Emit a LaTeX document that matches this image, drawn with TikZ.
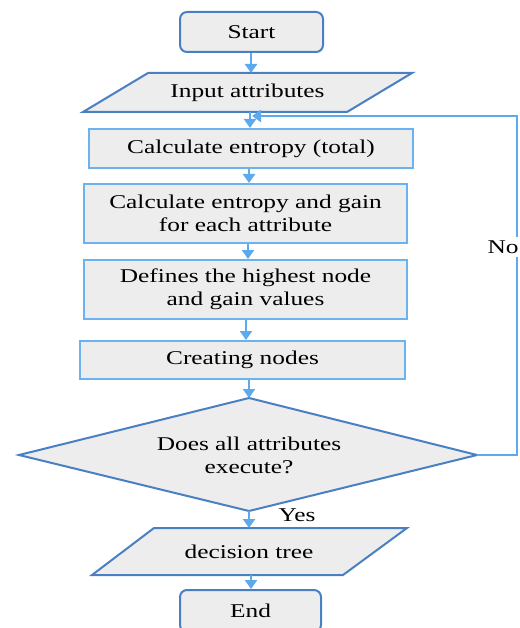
\documentclass[tikz,border=0pt]{standalone}
\usepackage{fontspec}
\setmainfont{Liberation Serif}[FakeStretch=1.3]
\usetikzlibrary{arrows.meta}
\definecolor{boxfill}{HTML}{EDEDED}
\definecolor{darkedge}{HTML}{4A80C2}
\definecolor{lightedge}{HTML}{6AB2F0}
\definecolor{arrowblue}{HTML}{5CA9EE}
\tikzset{
  base/.style={fill=boxfill, line width=2pt, inner sep=0pt, align=center,
    font=\fontsize{19.5}{23}\selectfont},
  term/.style={base, draw=darkedge, rounded corners=7pt},
  proc/.style={base, draw=lightedge},
  shapeline/.style={fill=boxfill, draw=darkedge, line width=2pt, line join=miter},
  txt/.style={align=center, inner sep=0pt, font=\fontsize{19.5}{23}\selectfont},
  arr/.style={draw=arrowblue, line width=2.5pt, -{Triangle[width=12pt,length=9pt]}},
}
\begin{document}
\begin{tikzpicture}[x=1pt,y=-1pt]
\useasboundingbox (0,0) rectangle (519,628);
% terminal start
\node[term, minimum width=143pt, minimum height=40pt] (start) at (251.5,32) {Start};
% input parallelogram
\draw[shapeline] (148,73) -- (412,73) -- (347,112) -- (83,112) -- cycle;
\coordinate (inT) at (251,73);
\coordinate (inB) at (250,112);
\node[txt] (inp) at (247.5,93) {Input attributes};
% processes
\node[proc, minimum width=324pt, minimum height=39pt] (c1) at (251,148.5) {Calculate entropy (total)};
\node[proc, minimum width=323pt, minimum height=59pt] (c2) at (245.5,213.5) {Calculate entropy and gain\\for each attribute};
\node[proc, minimum width=323pt, minimum height=59pt] (c3) at (245.5,289.5) {Defines the highest node\\and gain values};
\node[proc, minimum width=325pt, minimum height=38pt] (c4) at (242.5,360) {Creating nodes};
% decision diamond
\draw[shapeline] (249,398) -- (477,455) -- (249,511) -- (19,455) -- cycle;
\coordinate (dT) at (249,398);
\coordinate (dR) at (477,455);
\coordinate (dB) at (249,511);
\node[txt] (dec) at (249,455) {Does all attributes\\execute?};
% output parallelogram
\draw[shapeline] (154,528) -- (407,528) -- (343,575) -- (92,575) -- cycle;
\coordinate (oT) at (249,528);
\coordinate (oB) at (251,575);
\node[txt] (out) at (249,551.5) {decision tree};
% terminal end
\node[term, minimum width=141pt, minimum height=42pt] (end) at (250.5,611) {End};
% connectors
\draw[arr] (start.south -| inT) -- (inT);
\draw[arr] (inB) -- (inB |- c1.north);
\draw[arr] (c1.south -| 249,0) -- (c2.north -| 249,0);
\draw[arr] (c2.south -| 248,0) -- (c3.north -| 248,0);
\draw[arr] (c3.south -| 246,0) -- (c4.north -| 246,0);
\draw[arr] (c4.south -| dT) -- (dT);
\draw[arr] (dB) -- (oT);
\draw[arr] (oB) -- (oB |- end.north);
\coordinate (loopEnd) at (252,116);
\coordinate (loopCorner) at (517,116);
\draw[arr] (dR) -- (dR -| loopCorner) -- (loopCorner) -- (loopEnd);
\node[txt, fill=white, inner sep=4pt] (no) at (503,247) {No};
\node[txt] (yes) at (297,515) {Yes};
\end{tikzpicture}
\end{document}
